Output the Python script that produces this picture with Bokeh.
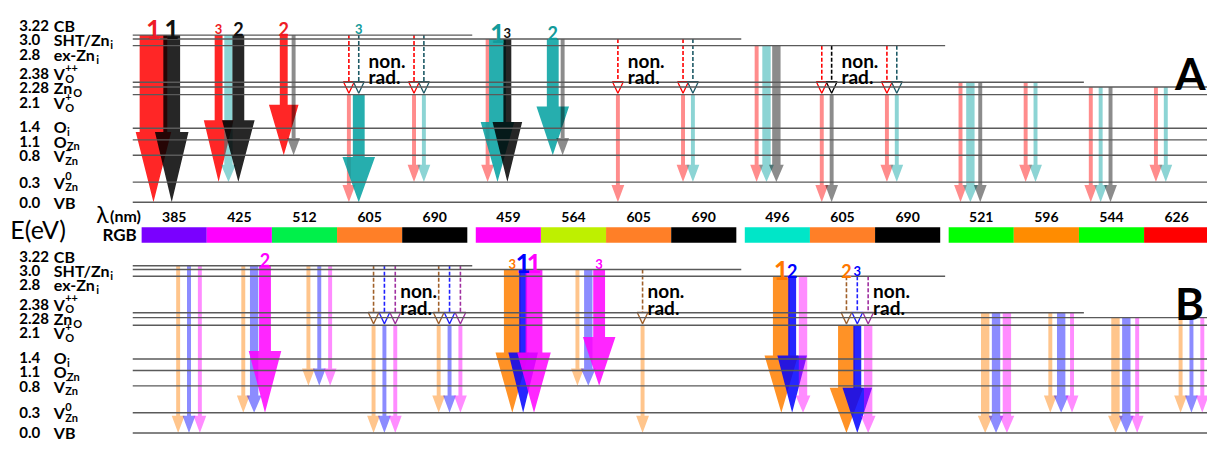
import numpy as np
from collections import defaultdict
from bokeh.plotting import figure
from bokeh.models import Range1d, ColumnDataSource
from bokeh.core.properties import value
from bokeh.embed import file_html
from bokeh.resources import INLINE

# ------------------------------------------------------------------ data
LEVEL_E = [3.22, 3.0, 2.8, 2.38, 2.28, 2.1, 1.4, 1.1, 0.8, 0.3, 0.0]
LEVEL_VALUE = ["3.22", "3.0", "2.8", "2.38", "2.28", "2.1", "1.4", "1.1", "0.8", "0.3", "0.0"]
LEVEL_NAME = ["CB", "SHT/Zn", "ex-Zn", "V", "Zn", "V", "O", "O", "V", "V", "VB"]
LEVEL_SUB = ["", "i", "i", "O", "O", "O", "i", "Zn", "Zn", "Zn", ""]
LEVEL_SUP = ["", "", "", "++", "", "+", "", "", "\u2212", "0", ""]

WAVELENGTH_NM = [385, 425, 512, 605, 690, 459, 564, 605, 690, 496, 605, 690, 521, 596, 544, 626]
RGB_COLOR = ["#7a00ff", "#ff00ff", "#00f04a", "#ff7f27", "#000000",
             "#ff00ff", "#bef000", "#ff7f27", "#000000",
             "#00e6c8", "#ff7f27", "#000000",
             "#00ff00", "#ff8c00", "#00ff00", "#ff0000"]
RGB_GROUP = [0, 0, 0, 0, 0, 1, 1, 1, 1, 2, 2, 2, 3, 3, 3, 3]
CB_SET = [0, 0, 0, 0, 0, 1, 1, 1, 1, 2, 2, 2, 3, 3, 4, 4]
SET_CB_E = [3.22, 3.0, 2.8, 2.38, 2.28]

# panel A: series 0 red, 1 teal, 2 black
A_COL = [0, 0, 1, 1, 1, 2, 2, 3, 3, 4, 4, 5, 5, 5, 6, 6, 7, 8, 8, 9, 9, 9, 10, 10, 11, 11,
         12, 12, 12, 13, 13, 14, 14, 14, 15, 15]
A_SER = [0, 2, 0, 1, 2, 0, 2, 0, 1, 0, 1, 0, 1, 2, 1, 2, 0, 0, 1, 0, 1, 2, 0, 2, 0, 1,
         0, 1, 2, 0, 1, 0, 1, 2, 0, 1]
A_FROM = [3.22, 3.22, 3.22, 3.22, 3.22, 3.22, 3.22, 2.1, 2.1, 2.1, 2.1, 3.0, 3.0, 3.0, 3.0, 3.0,
          2.1, 2.1, 2.1, 2.8, 2.8, 2.8, 2.1, 2.1, 2.1, 2.1, 2.38, 2.38, 2.38, 2.38, 2.38,
          2.28, 2.28, 2.28, 2.28, 2.28]
A_TO = [0.0, 0.0, 0.3, 0.3, 0.3, 0.8, 0.8, 0.0, 0.0, 0.3, 0.3, 0.3, 0.3, 0.3, 0.8, 0.8,
        0.0, 0.3, 0.3, 0.3, 0.3, 0.3, 0.0, 0.0, 0.3, 0.3, 0.0, 0.0, 0.0, 0.3, 0.3,
        0.0, 0.0, 0.0, 0.3, 0.3]
A_WEIGHT = [6, 5, 3, 2, 4, 3, 1, 1, 4, 1, 1, 1, 5, 3, 4, 1, 1, 1, 1, 1, 2, 2, 1, 1, 1, 1,
            1, 2, 1, 1, 1, 1, 1, 1, 1, 1]
A_RANK = [1, 1, 3, 0, 2, 2, 0, 0, 3, 0, 0, 0, 1, 3, 2, 0, 0, 0, 0, 0, 0, 0, 0, 0, 0, 0,
          0, 0, 0, 0, 0, 0, 0, 0, 0, 0]
A_NR_COL = [3, 3, 4, 4, 7, 8, 8, 10, 10, 11, 11]
A_NR_SER = [0, 1, 0, 1, 0, 0, 1, 0, 2, 0, 1]

# panel B: series 0 orange, 1 blue, 2 magenta
B_COL = [0, 0, 0, 1, 1, 1, 2, 2, 2, 3, 3, 3, 4, 4, 4, 5, 5, 5, 6, 6, 6, 7,
         9, 9, 9, 10, 10, 10, 12, 12, 12, 13, 13, 13, 14, 14, 14, 15, 15, 15]
B_SER = [0, 1, 2, 0, 1, 2, 0, 1, 2, 0, 1, 2, 0, 1, 2, 0, 1, 2, 0, 1, 2, 0,
         0, 1, 2, 0, 1, 2, 0, 1, 2, 0, 1, 2, 0, 1, 2, 0, 1, 2]
B_FROM = [3.22] * 9 + [2.1] * 6 + [3.0] * 6 + [2.1] + [2.8] * 3 + [2.1] * 3 + [2.38] * 6 + [2.28] * 6
B_TO = [0.0, 0.0, 0.0, 0.3, 0.3, 0.3, 0.8, 0.8, 0.8, 0.0, 0.0, 0.0, 0.3, 0.3, 0.3,
        0.3, 0.3, 0.3, 0.8, 0.8, 0.8, 0.0, 0.3, 0.3, 0.3, 0.0, 0.0, 0.0,
        0.0, 0.0, 0.0, 0.3, 0.3, 0.3, 0.0, 0.0, 0.0, 0.3, 0.3, 0.3]
B_WEIGHT = [1, 1, 1, 1, 2, 4, 1, 1, 1, 1, 1, 1, 1, 1, 1, 5, 3, 5, 1, 2, 4, 1,
            5, 3, 2, 5, 3, 2, 2, 2, 2, 1, 2, 1, 2, 2, 1, 1, 1, 1]
B_RANK = [0, 0, 0, 0, 0, 2, 0, 0, 0, 0, 0, 0, 0, 0, 0, 3, 1, 1, 0, 0, 3, 0,
          1, 2, 0, 2, 3, 0, 0, 0, 0, 0, 0, 0, 0, 0, 0, 0, 0, 0]
B_NR_COL = [3, 3, 3, 4, 4, 4, 7, 10, 10, 10]
B_NR_SER = [0, 1, 2, 0, 1, 2, 0, 0, 1, 2]

# ------------------------------------------------------------------ style / layout
SERIES_FILL = [["#ff0000", "#00a0a0", "#000000"], ["#ff7f00", "#0000ff", "#ff00ff"]]
SERIES_TEXT = [["#ee1c25", "#139b9b", "#111111"], ["#ff7700", "#0000ff", "#ff00ff"]]
SERIES_NR = [["#ff0000", "#1c5a66", "#000000"], ["#a0602a", "#2020ff", "#a030a0"]]
LINE_COLOR = "#5a5a5a"
FONT = "Lato"

PXC = 66.0                      # pixels per wavelength column
GROUP_GAP = 0.13
LEVEL_Y = [39, 43, 50, 88, 93, 101, 136, 148, 164, 192, 213]   # schematic energy scale
PANEL_SHIFT = [0, 240]
SLOT_START = [12, 37]
SLOT_STEP = [10, 11]
SHAFT = {1: 4, 2: 8.5, 3: 8, 4: 12, 5: 17, 6: 28}
HEAD_W = {1: 13, 2: 15, 3: 30, 4: 33, 5: 34, 6: 36}
RANK_SIZE = {1: 26, 2: 18, 3: 13}

X0 = -143 / PXC
X1 = (1223 - 143) / PXC


def u(px):
    return px / PXC


def col_left(c):
    return c + GROUP_GAP * RGB_GROUP[c]


def ey(E, panel):
    return float(np.interp(E, LEVEL_E[::-1], LEVEL_Y[::-1])) + PANEL_SHIFT[panel]


def set_end(s):
    last = max(c for c in range(len(CB_SET)) if CB_SET[c] == s)
    return col_left(last) + 1 + u(5)


def relax(ys, gap):
    clusters = [[y] for y in ys]

    def pos(cl):
        m = np.mean(cl)
        n = len(cl)
        return [m + (k - (n - 1) / 2) * gap for k in range(n)]

    while True:
        merged = False
        out = []
        for cl in clusters:
            if out and pos(cl)[0] - pos(out[-1])[-1] < gap:
                out[-1] = out[-1] + cl
                merged = True
            else:
                out.append(cl)
        clusters = out
        if not merged:
            break
    res = []
    for cl in clusters:
        res += pos(cl)
    return res


CHAR_W = {'C': 0.68, 'B': 0.66, 'S': 0.55, 'H': 0.78, 'T': 0.6, '/': 0.42, 'Z': 0.62,
          'n': 0.58, 'e': 0.55, 'x': 0.55, '-': 0.36, 'V': 0.69, 'O': 0.80, 'i': 0.26}


def text_w(s, size):
    return sum(CHAR_W.get(ch, 0.6) for ch in s) * size


p = figure(width=1207, height=443, x_range=Range1d(X0, X1), y_range=Range1d(464, 3),
           x_axis_type=None, y_axis_type=None, toolbar_location=None,
           output_backend="svg", min_border=0, outline_line_color=None,
           background_fill_color="white", border_fill_color="white")

TXT = []


def text(x, y, s, size, color="#000000", font=FONT, style="bold", align="left", baseline="middle"):
    TXT.append((x, y, s, size, color, font, style, align, baseline))


seg = defaultdict(list)
label_y = relax(LEVEL_Y, 15)

for panel in (0, 1):
    cols, sers, efrom, eto, wts, ranks, nrc, nrs = (
        (A_COL, A_SER, A_FROM, A_TO, A_WEIGHT, A_RANK, A_NR_COL, A_NR_SER) if panel == 0 else
        (B_COL, B_SER, B_FROM, B_TO, B_WEIGHT, B_RANK, B_NR_COL, B_NR_SER))

    # level lines
    for E in LEVEL_E:
        sets = [s for s in range(len(SET_CB_E)) if SET_CB_E[s] >= E - 1e-9]
        xe = X1 if max(sets) == len(SET_CB_E) - 1 else set_end(max(sets))
        y = ey(E, panel)
        seg["x0"].append(u(-9)); seg["x1"].append(xe)
        seg["y0"].append(y); seg["y1"].append(y)

    # left labels
    for k in range(len(LEVEL_E)):
        ly = label_y[k] + PANEL_SHIFT[panel]
        text(u(-124), ly, LEVEL_VALUE[k], 15)
        nx = u(-89)
        text(nx, ly, LEVEL_NAME[k], 16)
        sx = nx + u(text_w(LEVEL_NAME[k], 16) + 0.5)
        if LEVEL_SUB[k]:
            text(sx, ly + 5, LEVEL_SUB[k], 11)
        if LEVEL_SUP[k]:
            text(sx, ly - 6, LEVEL_SUP[k], 11)

    # slot positions
    slot = {}
    for c in sorted(set(cols)):
        idx = sorted([i for i in range(len(cols)) if cols[i] == c], key=lambda i: sers[i])
        x = SLOT_START[panel]
        prev = None
        for i in idx:
            if prev is not None:
                x += max(SLOT_STEP[panel], (SHAFT[wts[prev]] + SHAFT[wts[i]]) / 2 - 4)
            slot[(c, sers[i])] = col_left(c) + u(x)
            prev = i

    # arrows
    axs, ays, acol, aalpha = [], [], [], []
    for i in range(len(cols)):
        cx = slot[(cols[i], sers[i])]
        y0, y1 = ey(efrom[i], panel), ey(eto[i], panel)
        w = wts[i]
        hl = 0.42 * (y1 - y0) if w >= 3 else 18
        yh = y1 - hl
        hs, hh = u(SHAFT[w] / 2), u(HEAD_W[w] / 2)
        axs.append([cx - hs, cx + hs, cx + hs, cx + hh, cx, cx - hh, cx - hs])
        ays.append([y0, y0, yh, yh, y1, yh, yh])
        acol.append(SERIES_FILL[panel][sers[i]])
        aalpha.append(0.85 if w >= 3 else 0.45)
        if ranks[i]:
            text(cx, ey(SET_CB_E[CB_SET[cols[i]]], panel) - 6, str(ranks[i]), RANK_SIZE[ranks[i]],
                 color=SERIES_TEXT[panel][sers[i]], align="center", baseline="alphabetic")
    p.patches(xs="xs", ys="ys", fill_color="c", fill_alpha="a", line_color=None,
              source=ColumnDataSource(dict(xs=axs, ys=ays, c=acol, a=aalpha)))

    # non-radiative transitions
    nx0, ny0, ny1, ncol, txs, tys = [], [], [], [], [], []
    for i in range(len(nrc)):
        cx = slot[(nrc[i], nrs[i])]
        ytop = ey(SET_CB_E[CB_SET[nrc[i]]], panel)
        tip = ey(2.1, panel) - 1.5
        nx0.append(cx); ny0.append(ytop); ny1.append(tip - 12)
        ncol.append(SERIES_NR[panel][nrs[i]])
        txs.append([cx - u(5.5), cx + u(5.5), cx]); tys.append([tip - 12, tip - 12, tip])
    p.segment(x0="x", y0="y0", x1="x", y1="y1", line_color="c", line_width=1.6, line_dash="4 2",
              source=ColumnDataSource(dict(x=nx0, y0=ny0, y1=ny1, c=ncol)))
    p.patches(xs="xs", ys="ys", fill_color="white", line_color="c", line_width=1.3,
              source=ColumnDataSource(dict(xs=txs, ys=tys, c=ncol)))
    done_sets = set()
    for c in sorted(set(nrc)):
        s = CB_SET[c]
        if s in done_sets:
            continue
        done_sets.add(s)
        xr = max(slot[(c, nrs[i])] for i in range(len(nrc)) if nrc[i] == c)
        tx = xr + u(10 if panel == 0 else 5)
        ym = ey(2.6, panel)
        text(tx, ym - 3, "non.", 19, baseline="alphabetic")
        text(tx, ym + 14, "rad.", 19, baseline="alphabetic")

p.segment(x0="x0", y0="y0", x1="x1", y1="y1", source=ColumnDataSource(dict(seg)),
          line_color=LINE_COLOR, line_width=1.4)

# wavelength row and RGB bar
lefts = [col_left(c) for c in range(len(WAVELENGTH_NM))]
p.quad(left=lefts, right=[l + 1 for l in lefts], top=[239] * len(lefts), bottom=[255] * len(lefts),
       fill_color=RGB_COLOR, line_color=None)
for c, wl in enumerate(WAVELENGTH_NM):
    text(lefts[c] + 0.5, 228, str(wl), 14, align="center")
text(u(-46), 225, "\u03bb", 23, style="normal")
text(u(-32), 227, "(nm)", 16)
text(u(-5), 247, "RGB", 17, align="right")
text(u(-133), 241, "E(eV)", 25, style="normal")
text(u(1190 - 143), 78, "A", 44, baseline="alphabetic")
text(u(1190 - 143), 318, "B", 44, baseline="alphabetic")

groups = defaultdict(list)
for t in TXT:
    groups[(t[5], t[6], t[7], t[8])].append(t)
for (font, style, align, base), items in groups.items():
    src = ColumnDataSource(dict(x=[t[0] for t in items], y=[t[1] for t in items],
                                text=[t[2] for t in items], size=[f"{t[3]}px" for t in items],
                                color=[t[4] for t in items]))
    p.text(x="x", y="y", text="text", source=src, text_font=value(font), text_font_style=style,
           text_align=align, text_baseline=base, text_font_size="size", text_color="color")

with open("out.html", "w", encoding="utf-8") as f:
    f.write(file_html(p, INLINE))
